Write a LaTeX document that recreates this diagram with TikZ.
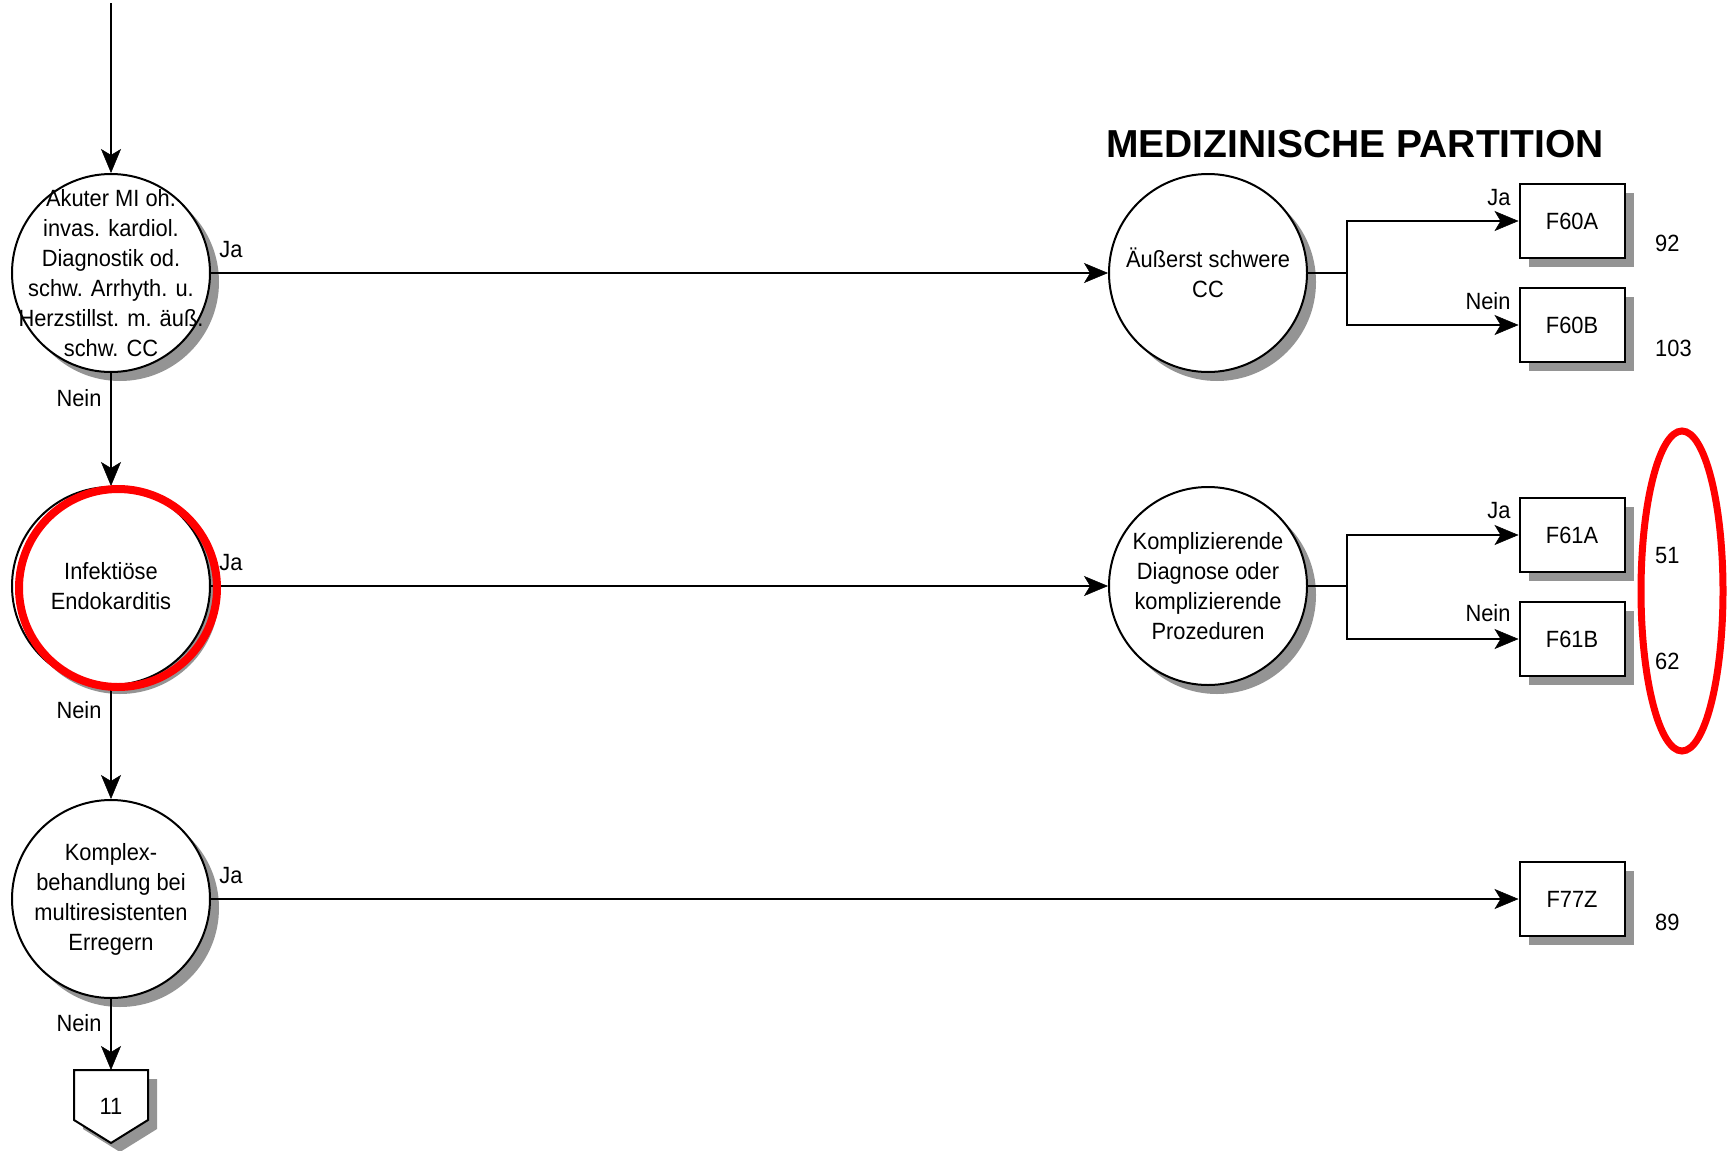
\documentclass[tikz,border=0pt]{standalone}
\usepackage{fontspec}
\setmainfont{Liberation Sans}[FakeStretch=0.93]
\newfontfamily\titlefont{Liberation Sans}
\usetikzlibrary{arrows.meta,shadows}
\tikzset{
  txt/.style={font=\fontsize{23.5}{30}\selectfont, inner sep=0pt, align=center},
  shad/.style={drop shadow={shadow xshift=9pt, shadow yshift=-9pt, fill=black!42, opacity=1}},
  dec/.style={circle, draw, line width=2pt, fill=white, minimum size=198pt, inner sep=-30pt,
    align=center, font=\fontsize{23.5}{30}\selectfont, shad},
  leaf/.style={rectangle, draw, line width=2pt, fill=white, minimum width=105pt, minimum height=74pt,
    inner sep=0pt, font=\fontsize{23.5}{30}\selectfont, shad},
  conn/.style={line width=2pt, -{Stealth[length=24pt,width=20pt,inset=6pt,line width=0.5pt]}},
  plain/.style={line width=2pt},
  num/.style={txt, anchor=west},
  hilite/.style={draw=red, line width=8pt},
}
\begin{document}
\begin{tikzpicture}[x=1pt,y=-1pt]
\useasboundingbox (0,0) rectangle (1727,1151);

% title
\node[inner sep=0pt] (title) at (1355,144) {\titlefont\bfseries\fontsize{39}{45}\selectfont MEDIZINISCHE PARTITION};

% left decision circles
\coordinate (top) at (111,3);
\node[dec] (c1) at (111,273) {Akuter MI oh.\\invas. kardiol.\\Diagnostik od.\\schw. Arrhyth. u.\\Herzstillst. m. äuß.\\schw. CC};
\node[dec] (c2) at (111,586) {Infektiöse\\Endokarditis};
\node[dec] (c3) at (111,899) {Komplex-\\behandlung bei\\multiresistenten\\Erregern};

% right decision circles
\node[dec] (cA) at (1208,273) {Äußerst schwere\\CC};
\node[dec] (cB) at (1208,586) {Komplizierende\\Diagnose oder\\komplizierende\\Prozeduren};

% leaves
\node[leaf] (F60A) at (1572,221) {F60A};
\node[leaf] (F60B) at (1572,325) {F60B};
\node[leaf] (F61A) at (1572,535) {F61A};
\node[leaf] (F61B) at (1572,639) {F61B};
\node[leaf] (F77Z) at (1572,899) {F77Z};

% numbers
\node[num] (n92) at (1655,243) {92};
\node[num] (n103) at (1655,348) {103};
\node[num] (n51) at (1655,556) {51};
\node[num] (n62) at (1655,661) {62};
\node[num] (n89) at (1655,922) {89};

% off-page connector 11
\fill[black!42] (83,1079) -- (157,1079) -- (157,1129) -- (120,1152) -- (83,1129) -- cycle;
\filldraw[plain, fill=white] (74,1070) -- (148,1070) -- (148,1120) -- (111,1143) -- (74,1120) -- cycle;
\coordinate (p11) at (111,1070);
\node[txt] (n11) at (111,1106) {11};

% branch points
\coordinate (bA) at (1347,273);
\coordinate (bB) at (1347,586);

% connectors
\draw[conn] (top) -- (c1);
\draw[conn] (c1) -- (c2);
\draw[conn] (c2) -- (c3);
\draw[conn] (c3) -- (p11);
\draw[conn] (c1) -- (cA);
\draw[conn] (c2) -- (cB);
\draw[conn] (c3) -- (F77Z);
\draw[plain] (cA) -- (bA);
\draw[conn] (bA) |- (F60A);
\draw[conn] (bA) |- (F60B);
\draw[plain] (cB) -- (bB);
\draw[conn] (bB) |- (F61A);
\draw[conn] (bB) |- (F61B);

% connector labels
\node[txt] (ja1) at (231,250) {Ja};
\node[txt] (ja2) at (231,563) {Ja};
\node[txt] (ja3) at (231,876) {Ja};
\node[txt] (nein1) at (79,398) {Nein};
\node[txt] (nein2) at (79,710) {Nein};
\node[txt] (nein3) at (79,1023) {Nein};
\node[txt] (jaA) at (1499,198) {Ja};
\node[txt] (neinA) at (1488,301) {Nein};
\node[txt] (jaB) at (1499,511) {Ja};
\node[txt] (neinB) at (1488,613) {Nein};

% red highlights
\draw[hilite] (118,588) circle [radius=99];
\draw[draw=red, line width=7pt] (1682,591) ellipse [x radius=41, y radius=160];
\end{tikzpicture}
\end{document}
